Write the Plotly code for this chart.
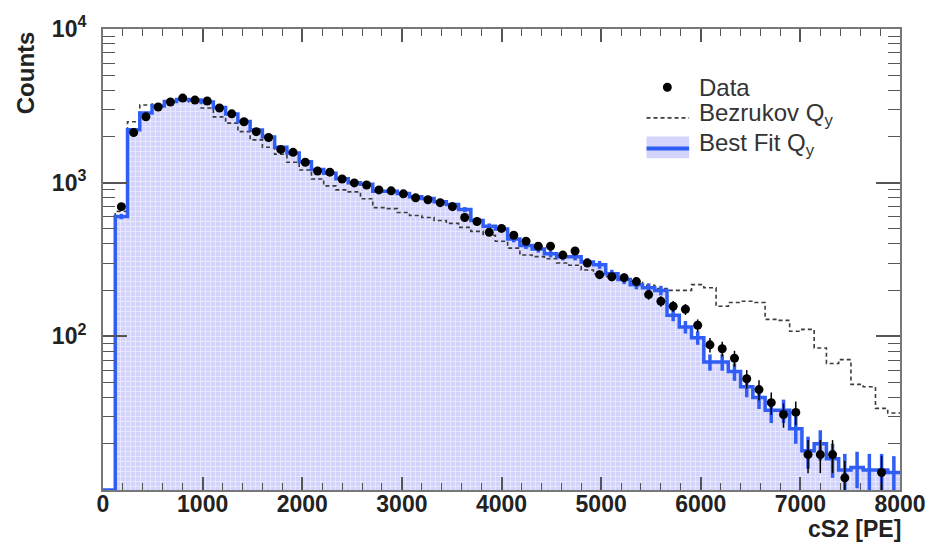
import numpy as np
import plotly.graph_objects as go

# Binning of the cS2 spectrum: 65 equal bins over 0-8000 PE
X_MIN, X_MAX, N_BINS = 0.0, 8000.0, 65
Y_MIN_LOG, Y_MAX_LOG = 1.0, 4.0
Y_FLOOR = 10.0 ** Y_MIN_LOG

# Observed counts per bin (bin 0 is empty)
data_counts = [
    0, 698, 2117, 2682, 3109, 3348, 3550, 3447, 3397, 3063,
    2804, 2490, 2148, 1966, 1646, 1575, 1358, 1189, 1171, 1056,
    996, 966, 897, 885, 846, 797, 774, 741, 698, 593,
    559, 475, 504, 455, 416, 386, 386, 338, 359, 300,
    252, 244, 241, 227, 187, 169, 157, 150, 118, 88,
    83, 72, 53, 45, 37, 31, 32, 17, 17, 17,
    12, 7, 6, 13, 6,
]

# Best-fit Qy model prediction per bin
best_fit = [
    0, 603, 2210, 2845, 3150, 3380, 3480, 3450, 3350, 3080,
    2800, 2500, 2200, 1980, 1700, 1560, 1370, 1220, 1150, 1060,
    1000, 975, 880, 880, 850, 810, 790, 750, 720, 668,
    567, 520, 500, 430, 390, 370, 345, 330, 330, 305,
    292, 255, 234, 217, 207, 199, 137, 115, 98, 68,
    68, 59, 47, 40, 33, 33, 25, 18, 20, 16,
    13.5, 14, 13.5, 13.5, 13,
]

# Bezrukov Qy model prediction per bin
bezrukov = [
    0, 650, 2490, 3200, 3250, 3400, 3450, 3350, 3063, 2682,
    2440, 2148, 1900, 1700, 1530, 1358, 1208, 1056, 953, 897,
    871, 786, 688, 678, 639, 611, 593, 567, 543, 512,
    482, 455, 416, 375, 338, 330, 320, 300, 290, 270,
    255, 245, 235, 225, 215, 205, 199, 199, 217, 207,
    157, 166, 169, 166, 129, 127, 108, 111, 84, 66.5,
    70.5, 48.7, 47, 34, 31.7,
]

legend_labels = ["Data", "Bezrukov Q<sub>y</sub>", "Best Fit Q<sub>y</sub>"]

x_tick_step, x_minor_step = 1000, 200
y_major = [100, 1000, 10000]
y_major_text = ["10<sup>2</sup>", "10<sup>3</sup>", "10<sup>4</sup>"]
y_minor = [m * 10 ** d for d in (1, 2, 3) for m in range(2, 10)]

FONT = "Liberation Sans, Arial, Helvetica, sans-serif"
BLUE = "#2f5df5"
DASH_GREY = "#3c3c3c"
FILL_BG = "#d3d3fb"

W, H = 938, 543
M_L, M_R, M_T, M_B = 103, 30, 23, 53
PLOT_W, PLOT_H = W - M_L - M_R, H - M_T - M_B

edges = np.linspace(X_MIN, X_MAX, N_BINS + 1)
centers = 0.5 * (edges[:-1] + edges[1:])


def px_x(px):
    """Pixel column -> paper x."""
    return (px - M_L) / PLOT_W


def px_y(py):
    """Pixel row -> paper y."""
    return (H - M_B - py) / PLOT_H


def step_path(vals, from_origin=False):
    """Histogram outline for line_shape='hv', values clipped at the axis floor."""
    v = np.maximum(np.asarray(vals, float), Y_FLOOR)
    x0 = edges[0] if from_origin else edges[1]
    xs = [x0] + list(edges[1:N_BINS]) + [edges[N_BINS]]
    ys = [Y_FLOOR] + list(v[1:]) + [v[-1]]
    return xs, ys


fig = go.Figure()

fx, fy = step_path(best_fit, from_origin=True)
pattern = dict(shape="+", bgcolor=FILL_BG, fgcolor="white",
               fgopacity=0.55, size=5, solidity=0.3)

# filled area of the best-fit histogram
fig.add_trace(go.Scatter(
    x=fx, y=fy, mode="lines", line=dict(width=0, shape="hv"),
    fill="tozeroy", fillcolor=FILL_BG, fillpattern=pattern,
    showlegend=False, hoverinfo="skip",
))

# Bezrukov prediction (dashed outline)
bx, by = step_path(bezrukov)
fig.add_trace(go.Scatter(
    x=bx, y=by, mode="lines", showlegend=False,
    line=dict(color=DASH_GREY, width=1.6, dash="4px,3px", shape="hv"),
))

# best-fit outline
fig.add_trace(go.Scatter(
    x=fx, y=fy, mode="lines", line=dict(color=BLUE, width=3.5, shape="hv"),
    showlegend=False,
))

# statistical uncertainty of the best-fit prediction
bf = np.asarray(best_fit, float)
fig.add_trace(go.Scatter(
    x=centers[1:], y=bf[1:], mode="markers",
    marker=dict(size=1, color=BLUE),
    error_y=dict(type="data", array=np.sqrt(bf[1:]), color=BLUE,
                 thickness=3.5, width=0),
    showlegend=False, hoverinfo="skip",
))

# data points with Poisson errors
dc = np.asarray(data_counts, float)
fig.add_trace(go.Scatter(
    x=centers[1:], y=dc[1:], mode="markers", showlegend=False,
    marker=dict(size=9, color="black"),
    error_y=dict(type="data", array=np.sqrt(dc[1:]), color="black",
                 thickness=1.5, width=0),
))

# legend box drawn in the upper right of the frame
LEG_X0, LEG_X1, LEG_TXT = 652, 695, 703
leg_rows = [82, 110, 140]
shapes = [
    dict(type="circle", xref="paper", yref="paper",
         x0=px_x(673 - 4.5), x1=px_x(673 + 4.5),
         y0=px_y(leg_rows[0] + 4.5), y1=px_y(leg_rows[0] - 4.5),
         fillcolor="black", line=dict(width=0)),
    dict(type="line", xref="paper", yref="paper",
         x0=px_x(LEG_X0), x1=px_x(LEG_X1),
         y0=px_y(leg_rows[1] + 3), y1=px_y(leg_rows[1] + 3),
         line=dict(color=DASH_GREY, width=1.6, dash="4px,3px")),
    dict(type="rect", xref="paper", yref="paper",
         x0=px_x(LEG_X0), x1=px_x(LEG_X1),
         y0=px_y(leg_rows[2] + 14), y1=px_y(leg_rows[2] - 8),
         fillcolor=FILL_BG, line=dict(width=0)),
    dict(type="line", xref="paper", yref="paper",
         x0=px_x(LEG_X0), x1=px_x(LEG_X1),
         y0=px_y(leg_rows[2] + 4), y1=px_y(leg_rows[2] + 4),
         line=dict(color=BLUE, width=4)),
]
annotations = [
    dict(text=lab, xref="paper", yref="paper", x=px_x(LEG_TXT), y=px_y(row),
         xanchor="left", yanchor="middle", showarrow=False,
         font=dict(family=FONT, size=24, color="#333"))
    for lab, row in zip(legend_labels, leg_rows)
]
annotations += [
    dict(text="<b>Counts</b>", xref="paper", yref="paper",
         x=px_x(25), y=1.0, xanchor="center", yanchor="top",
         textangle=-90, showarrow=False,
         font=dict(family=FONT, size=24, color="#222")),
    dict(text="<b>cS2 [PE]</b>", xref="paper", yref="paper",
         x=px_x(910), y=px_y(530), xanchor="right", yanchor="middle",
         showarrow=False, borderpad=0,
         font=dict(family=FONT, size=23, color="#222")),
]

axis_common = dict(
    ticks="inside", tickcolor="#555", showline=True, linecolor="#777",
    linewidth=2, mirror="ticks", showgrid=False, zeroline=False,
    tickfont=dict(family=FONT, size=23, color="#222", weight="bold"),
)

fig.update_layout(
    width=W, height=H,
    margin=dict(l=M_L, r=M_R, t=M_T, b=M_B),
    paper_bgcolor="white", plot_bgcolor="white",
    font=dict(family=FONT, color="#222"),
    showlegend=False,
    xaxis=dict(
        range=[X_MIN, X_MAX], tick0=0, dtick=x_tick_step,
        ticklen=13, tickwidth=1.5, ticklabelstandoff=-8,
        minor=dict(dtick=x_minor_step, ticks="inside", ticklen=7,
                   tickwidth=1.2, tickcolor="#555"),
        **axis_common,
    ),
    yaxis=dict(
        type="log", range=[Y_MIN_LOG, Y_MAX_LOG],
        tickvals=y_major, ticktext=y_major_text,
        ticklen=24, tickwidth=1.5, ticklabelstandoff=10,
        minor=dict(tickvals=y_minor, ticks="inside", ticklen=12,
                   tickwidth=1.2, tickcolor="#555"),
        **axis_common,
    ),
    shapes=shapes,
    annotations=annotations,
)

fig.write_html("out.html")
